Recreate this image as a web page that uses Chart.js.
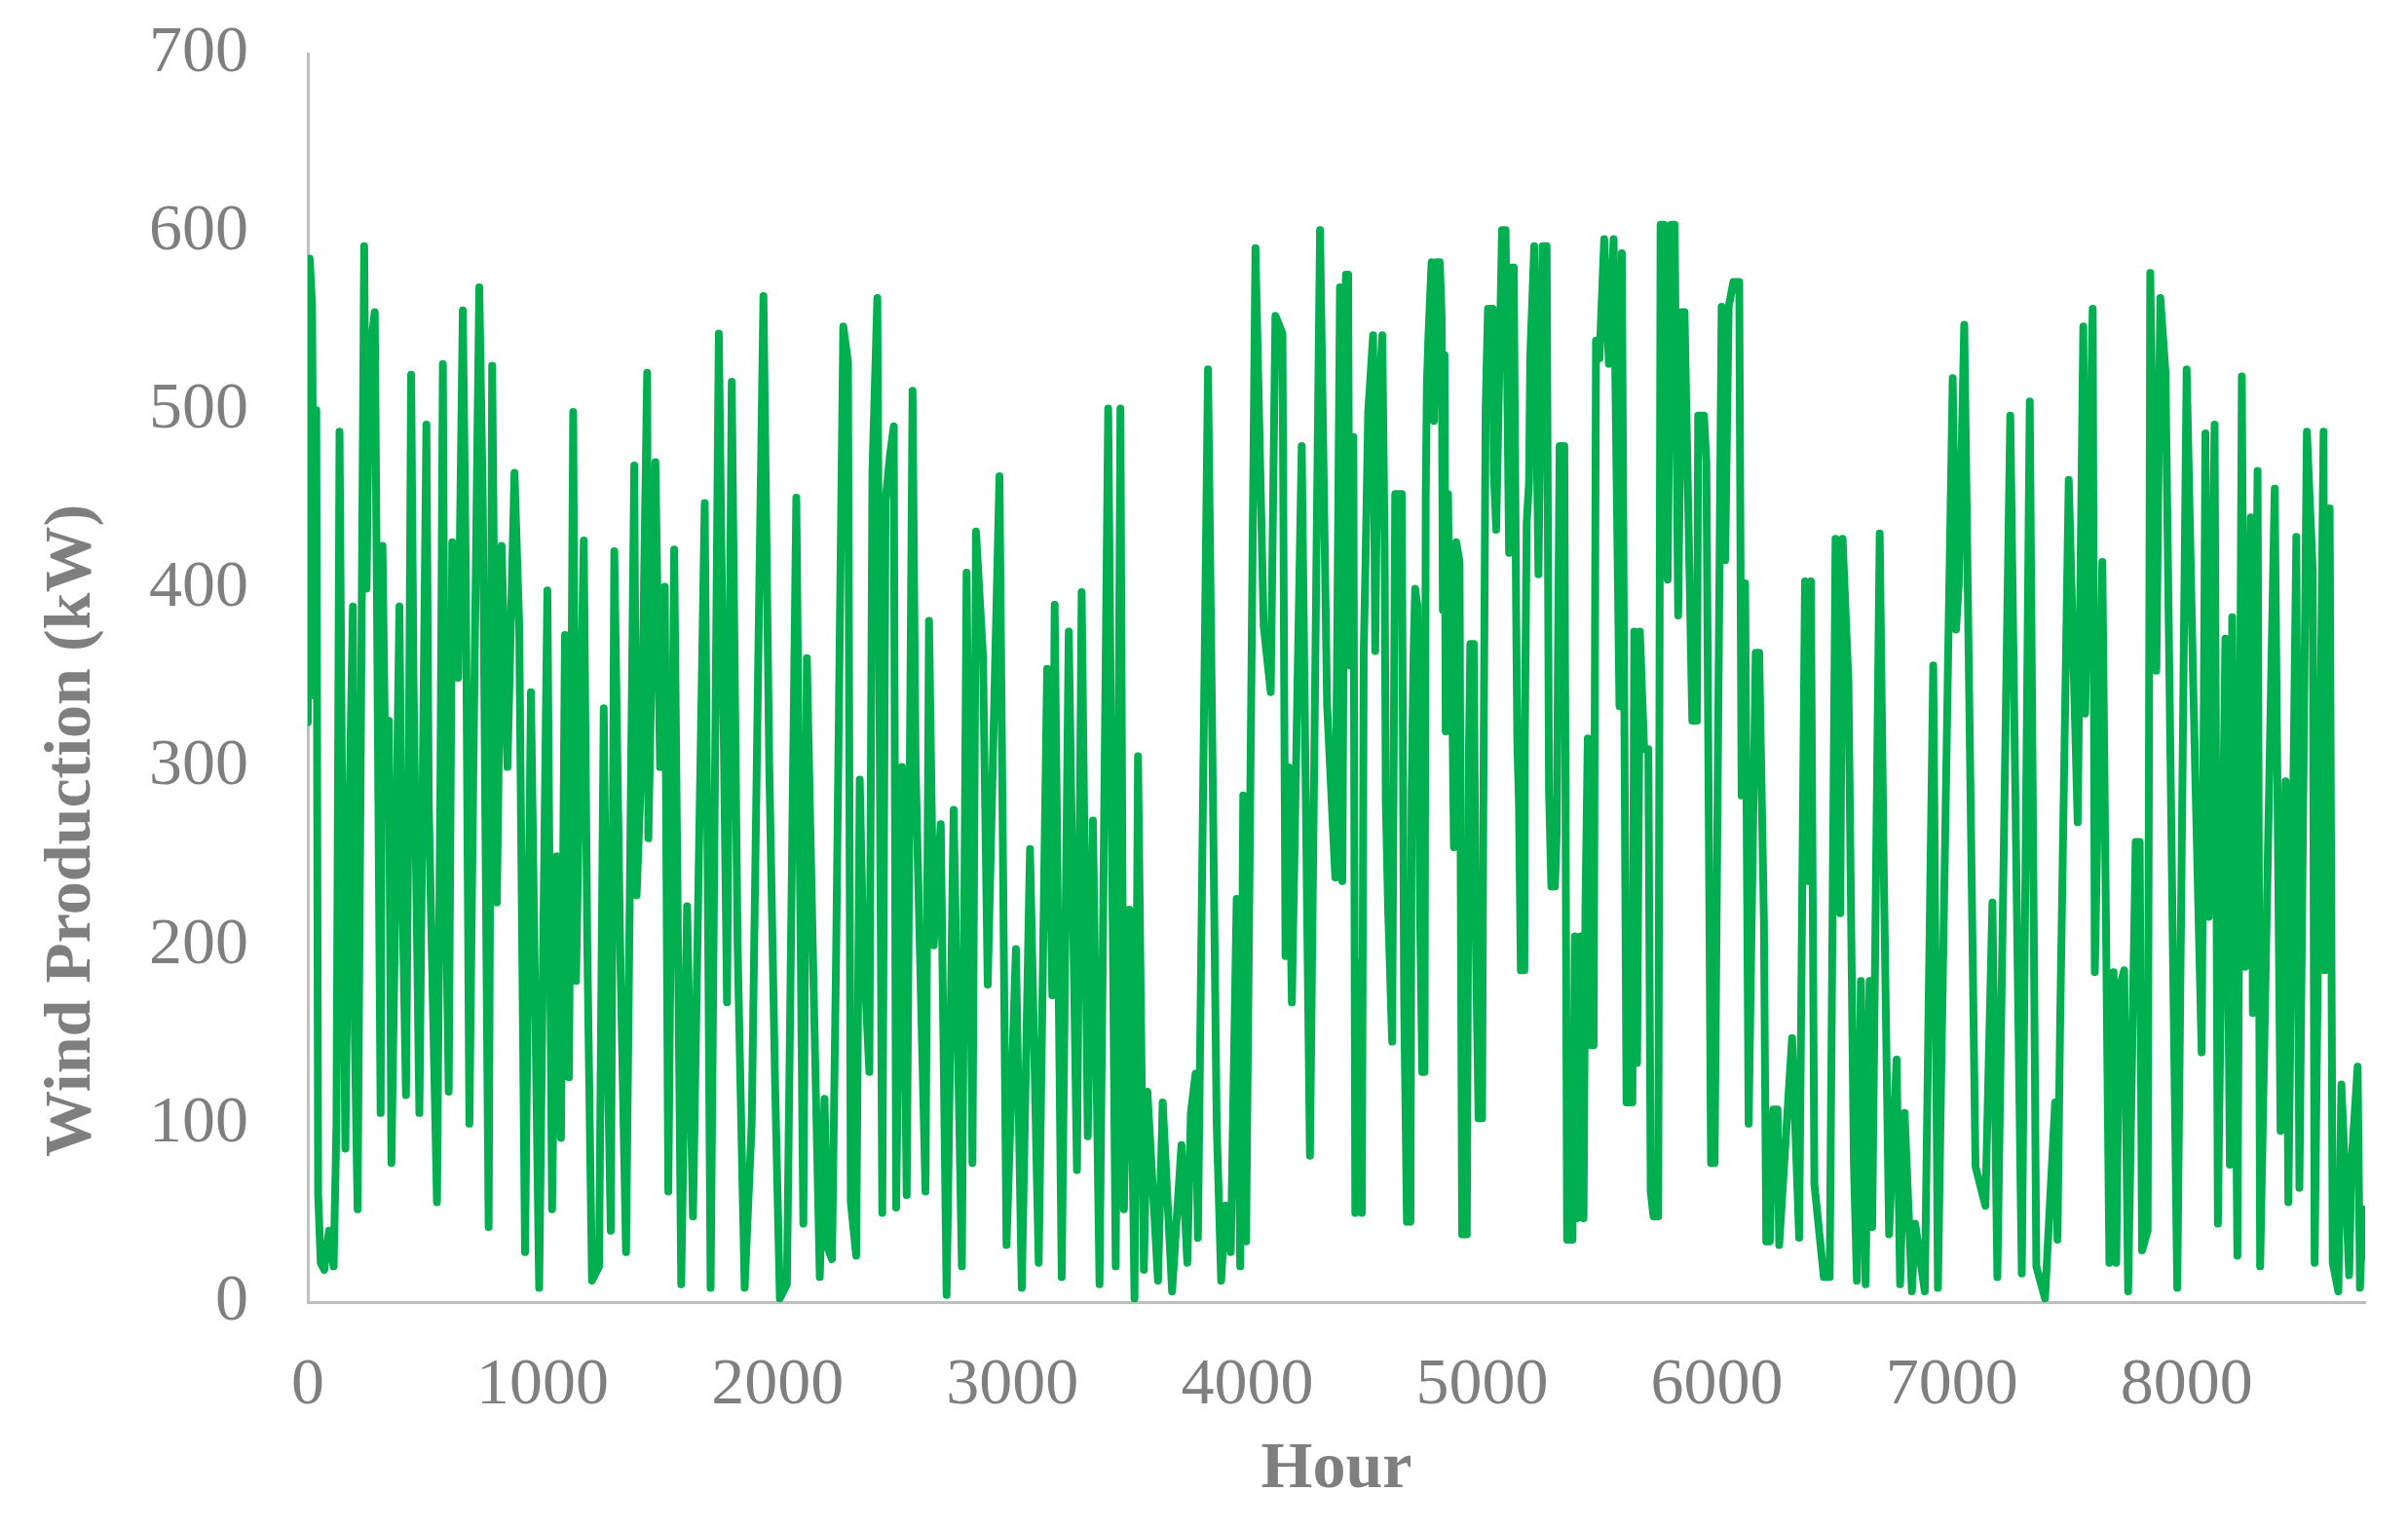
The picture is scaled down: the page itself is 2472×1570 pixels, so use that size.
<!DOCTYPE html>
<html>
<head>
<meta charset="utf-8">
<title>Wind Production</title>
<script src="https://cdn.jsdelivr.net/npm/chart.js@4.4.1/dist/chart.umd.min.js"></script>
<style>
  html, body { margin: 0; padding: 0; background: #ffffff; }
  #wrap { width: 2472px; height: 1570px; }
</style>
</head>
<body>
<div id="wrap"><canvas id="windChart" width="2472" height="1570"></canvas></div>
<script>
// Hourly wind production (turning points of the trace)
const hours = [
  0, 8, 18, 28, 36, 44, 55, 70, 90, 110, 122, 135, 145, 160, 175, 192, 200, 212, 225, 240,
  250, 262, 285, 295, 310, 318, 330, 345, 356, 370, 390, 400, 418, 430, 440, 450, 475, 490, 505, 515,
  550, 565, 575, 585, 600, 615, 640, 660, 672, 688, 705, 730, 745, 770, 785, 805, 825, 850, 880, 900,
  925, 950, 985, 1020, 1040, 1060,
  1078, 1095, 1112, 1130, 1142, 1175, 1190, 1210, 1240, 1260, 1275, 1290, 1305, 1330, 1355, 1390, 1400, 1420, 1445, 1450,
  1480, 1500, 1520, 1535, 1560, 1580, 1590, 1615, 1640, 1690, 1705, 1715, 1750, 1785, 1805, 1830, 1860, 1890, 1940, 1965,
  1990, 2010, 2040, 2080, 2110, 2125, 2150, 2180,
  2200, 2215, 2232, 2250, 2280, 2300, 2312, 2335, 2350, 2365, 2391, 2404, 2425, 2446, 2460, 2478, 2495, 2505, 2530, 2550,
  2575, 2588, 2630, 2645, 2665, 2695, 2720, 2750, 2785, 2805, 2830, 2845, 2875, 2895, 2945, 2975, 3015, 3040, 3075, 3112,
  3148, 3170, 3180, 3210, 3240, 3275,
  3295, 3321, 3343, 3371, 3408, 3440, 3460, 3475, 3498, 3520, 3535, 3560, 3575, 3620, 3640, 3680, 3720, 3745, 3760, 3780,
  3790, 3833, 3870, 3889, 3907, 3930, 3955, 3970, 3983, 3995, 4035, 4070, 4100, 4120, 4150, 4163, 4175, 4190, 4232, 4267,
  4310, 4340, 4375, 4395,
  4405, 4412, 4420, 4430, 4435, 4443, 4452, 4460, 4474, 4488, 4496, 4505, 4515, 4536, 4545, 4555, 4575, 4585, 4590, 4600,
  4617, 4630, 4658, 4668, 4680, 4695, 4700, 4708, 4715, 4725, 4735, 4745, 4755, 4760, 4765, 4772, 4785, 4795, 4805, 4820,
  4828, 4833, 4840, 4845, 4855, 4866, 4872, 4880, 4890, 4904, 4915, 4935, 4943, 4950, 4965, 4972, 4985, 5000, 5005, 5010,
  5015, 5025, 5045, 5050, 5060, 5085, 5100, 5115, 5120, 5135, 5145, 5150, 5157, 5165, 5180, 5182, 5190, 5200, 5205, 5222,
  5240, 5258, 5275, 5285, 5295, 5310, 5318, 5330, 5350, 5362, 5385, 5395, 5405, 5420, 5432, 5440, 5450, 5460, 5475, 5485,
  5500,
  5520, 5540, 5560, 5585, 5595, 5615, 5640, 5648, 5660, 5672, 5690, 5708, 5718, 5730, 5750, 5760, 5775, 5790, 5805, 5820,
  5835, 5850, 5862, 5895, 5915, 5920, 5945, 5955, 5975, 5990, 6020, 6035, 6050, 6070, 6095, 6105, 6120, 6135, 6165, 6180,
  6200, 6210, 6225, 6240, 6258, 6265, 6300, 6320, 6350, 6375, 6388, 6400, 6415, 6455, 6480, 6505, 6525, 6535, 6560, 6583,
  6596,
  6613, 6633, 6650, 6661, 6693, 6710, 6733, 6765, 6780, 6799, 6830, 6844, 6885, 6921, 6941, 6954, 7004, 7018, 7030, 7053,
  7101, 7143, 7173, 7194, 7249, 7298, 7332, 7360, 7397, 7440, 7450, 7461, 7498, 7536, 7560, 7568, 7600, 7609, 7641, 7671,
  7689,
  7700, 7714, 7734, 7751, 7783, 7800, 7810, 7834, 7845, 7871, 7888, 7910, 7960, 8000, 8028, 8064, 8080, 8094, 8119, 8133,
  8165, 8184, 8194, 8216, 8235, 8249, 8273, 8282, 8302, 8313, 8375, 8400, 8421, 8433, 8467, 8480, 8512, 8537, 8545, 8583,
  8587, 8609, 8622, 8646, 8659, 8692, 8702, 8728, 8738, 8750, 8760
];

const windKw = [
  325, 585, 560, 340, 500, 60, 22, 18, 40, 20, 100, 488, 300, 86, 260, 390, 150, 52, 300, 592,
  400, 530, 555, 380, 106, 424, 300, 326, 78, 200, 390, 250, 116, 300, 520, 350, 106, 300, 492, 280,
  56, 300, 526, 250, 118, 426, 350, 556, 420, 100, 300, 569, 450, 42, 525, 224, 424, 300, 465, 380,
  28, 342, 8, 399, 52, 250,
  92, 374, 126, 499, 180, 427, 200, 12, 20, 333, 150, 40, 421, 200, 28, 469, 228, 300, 521, 260,
  471, 300, 401, 62, 422, 150, 10, 222, 48, 448, 200, 8, 543, 168, 516, 200, 8, 100, 564, 300,
  120, 2, 10, 451, 44, 361, 200, 14,
  114, 30, 24, 200, 547, 527, 56, 26, 293, 200, 129, 465, 563, 50, 449, 474, 491, 53, 300, 60,
  511, 300, 62, 382, 200, 268, 4, 276, 20, 409, 78, 432, 362, 178, 463, 32, 198, 8, 254, 22,
  355, 172, 391, 14, 376, 74,
  398, 93, 270, 10, 501, 20, 501, 52, 220, 2, 306, 18, 118, 12, 112, 6, 88, 22, 106, 128,
  36, 523, 100, 12, 54, 28, 226, 20, 284, 34, 591, 379, 342, 553, 543, 194, 300, 168, 480, 82,
  601, 335, 238, 569,
  236, 425, 576, 576, 357, 485, 485, 50, 190, 50, 364, 424, 499, 542, 365, 490, 542, 424, 280, 220,
  146, 453, 453, 170, 45, 45, 284, 362, 400, 390, 228, 129, 129, 450, 515, 543, 583, 494, 583, 583,
  552, 388, 531, 320, 453, 320, 350, 255, 426, 415, 38, 38, 300, 369, 369, 214, 103, 103, 272, 380,
  500, 557, 557, 465, 433, 601, 601, 420, 580, 580, 388, 314, 279, 186, 186, 316, 437, 460, 530, 592,
  408, 592, 592, 286, 233, 233, 264, 480, 480, 35, 35, 205, 47, 205, 47, 220, 316, 144, 144, 539,
  529,
  596, 526, 596, 334, 588, 112, 112, 376, 134, 376, 310, 310, 62, 48, 48, 604, 604, 405, 604, 604,
  385, 555, 555, 326, 326, 497, 497, 471, 78, 78, 558, 416, 558, 572, 572, 284, 403, 100, 364, 364,
  214, 34, 34, 108, 108, 32, 106, 148, 36, 404, 236, 404, 66, 14, 14, 428, 218, 428, 348, 78,
  12,
  180, 10, 180, 42, 431, 246, 38, 136, 10, 106, 6, 44, 6, 357, 8, 120, 518, 377, 403, 548,
  76, 54, 224, 14, 497, 16, 505, 20, 2, 112, 35, 154, 461, 269, 547, 330, 557, 185, 415, 22,
  185,
  22, 176, 186, 6, 258, 258, 29, 40, 577, 354, 563, 521, 8, 523, 346, 140, 487, 216, 492, 44,
  372, 77, 384, 26, 519, 188, 440, 162, 466, 20, 456, 96, 292, 56, 429, 64, 488, 410, 22, 488,
  186, 445, 22, 6, 122, 15, 78, 132, 8, 52, 26
];

const xTicks = [0, 1000, 2000, 3000, 4000, 5000, 6000, 7000, 8000];
const yTicks = [0, 100, 200, 300, 400, 500, 600, 700];

const xTitle = 'Hour';
const yTitle = 'Wind Production (kW)';

const labelGray = '#7f7f7f';
const axisGray = '#bfbfbf';
const lineGreen = '#00b050';

Chart.defaults.font.family = '"Liberation Serif", "Times New Roman", serif';

// y title sits lower than the plot centre in the original, so draw it by hand
const yTitlePlugin = {
  id: 'yTitle',
  afterDraw(chart) {
    const c = chart.ctx;
    const area = chart.chartArea;
    c.save();
    c.translate(74, area.bottom - 484);
    c.rotate(-Math.PI / 2);
    c.font = 'bold 68px "Liberation Serif", "Times New Roman", serif';
    c.fillStyle = labelGray;
    c.textAlign = 'center';
    c.textBaseline = 'middle';
    c.fillText(yTitle, 0, 0);
    c.restore();
  }
};

const ctx = document.getElementById('windChart');

new Chart(ctx, {
  type: 'line',
  data: {
    datasets: [{
      label: 'Wind Production',
      data: hours.map((h, i) => ({ x: h, y: windKw[i] })),
      borderColor: lineGreen,
      backgroundColor: lineGreen,
      borderWidth: 8,
      borderJoinStyle: 'round',
      borderCapStyle: 'round',
      pointRadius: 0,
      tension: 0,
      fill: false
    }]
  },
  options: {
    responsive: false,
    animation: false,
    layout: {
      padding: { left: 0, top: 55, right: 44, bottom: 0 }
    },
    plugins: {
      legend: { display: false },
      tooltip: { enabled: false }
    },
    scales: {
      x: {
        type: 'linear',
        min: 0,
        max: 8760,
        afterFit: scale => {
          scale.height = 233;
          scale.paddingLeft = 0;
          scale.paddingRight = 0;
        },
        afterBuildTicks: scale => { scale.ticks = xTicks.map(v => ({ value: v })); },
        grid: { display: false, drawTicks: false },
        border: { display: true, color: axisGray, width: 3 },
        ticks: {
          color: labelGray,
          font: { size: 68 },
          padding: 45,
          maxRotation: 0,
          autoSkip: false,
          callback: value => String(value)
        },
        title: {
          display: true,
          text: xTitle,
          color: labelGray,
          font: { size: 68, weight: 'bold' },
          padding: { top: 0, bottom: 20 }
        }
      },
      y: {
        min: 0,
        max: 700,
        afterFit: scale => {
          scale.width = 316;
          scale.paddingTop = 0;
          scale.paddingBottom = 0;
        },
        afterBuildTicks: scale => { scale.ticks = yTicks.map(v => ({ value: v })); },
        grid: { display: false, drawTicks: false },
        border: { display: true, color: axisGray, width: 3 },
        ticks: {
          color: labelGray,
          font: { size: 68 },
          padding: 61,
          callback: value => String(value)
        }
      }
    }
  },
  plugins: [yTitlePlugin]
});
</script>
</body>
</html>
